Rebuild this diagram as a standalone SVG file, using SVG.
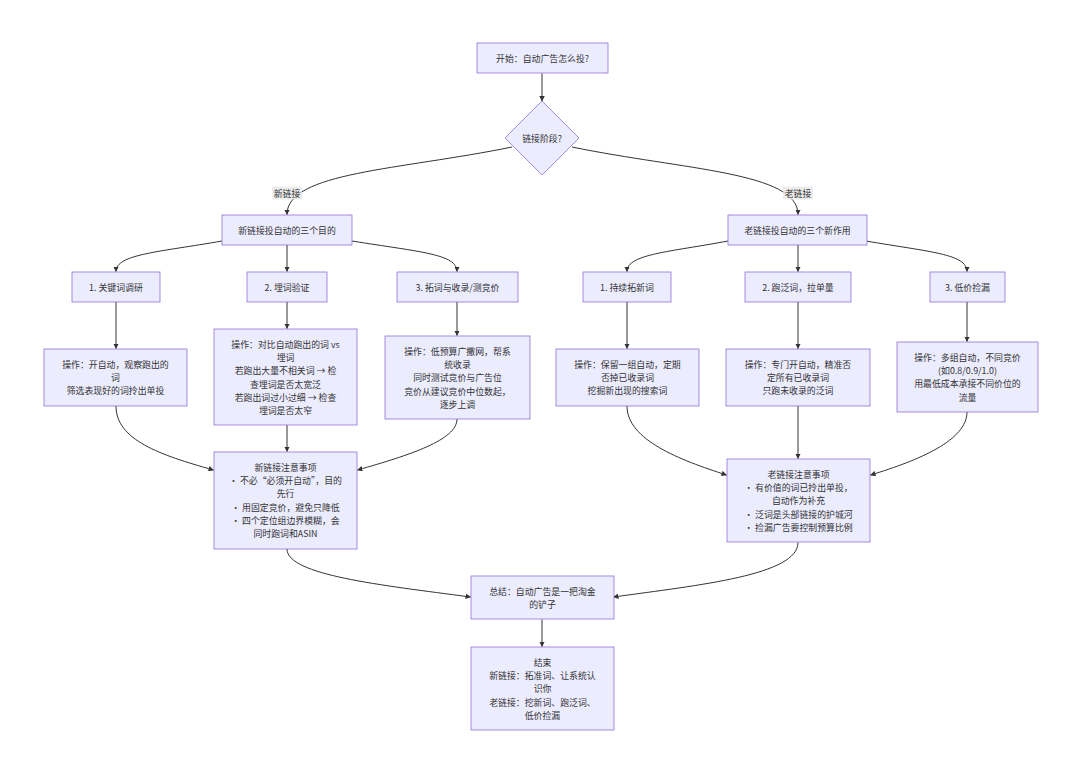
<svg xmlns="http://www.w3.org/2000/svg" width="1080" height="769" viewBox="0 0 1080 769">
<style>
.box{fill:#ECECFF;stroke:#9370DB;stroke-width:0.8}
.t{font-family:"Noto Sans CJK SC","Noto Sans",sans-serif;font-size:8.9px;fill:#333;text-anchor:middle;dominant-baseline:central}
.e{fill:none;stroke:#333;stroke-width:1}
.lbl{fill:#E8E8E8;fill-opacity:0.8}
</style>
<defs>
<marker id="arr" viewBox="0 0 10 10" refX="9" refY="5" markerWidth="5.5" markerHeight="5.5" markerUnits="userSpaceOnUse" orient="auto">
<path d="M0,0 L10,5 L0,10 z" fill="#333"/>
</marker>
</defs>
<rect width="1080" height="769" fill="#fff"/>

<g id="connectors">
<path class="e" marker-end="url(#arr)" d="M542,73.5 L542,101"/>
<path class="e" marker-end="url(#arr)" d="M512,147 C400,170 287,172 287,214.5"/>
<path class="e" marker-end="url(#arr)" d="M572,147 C684,170 798,172 798,214.5"/>
<path class="e" marker-end="url(#arr)" d="M222,241 C160,252 116,254 116,271.5"/>
<path class="e" marker-end="url(#arr)" d="M287,245 L287,271.5"/>
<path class="e" marker-end="url(#arr)" d="M352,241 C420,252 457,254 457,271.5"/>
<path class="e" marker-end="url(#arr)" d="M728,241 C670,252 627,254 627,271.5"/>
<path class="e" marker-end="url(#arr)" d="M798,245 L798,271.5"/>
<path class="e" marker-end="url(#arr)" d="M866,241 C930,252 967,254 967,271.5"/>
<path class="e" marker-end="url(#arr)" d="M116,302 L116,348.5"/>
<path class="e" marker-end="url(#arr)" d="M287,302 L287,328.5"/>
<path class="e" marker-end="url(#arr)" d="M457,302 L457,335.5"/>
<path class="e" marker-end="url(#arr)" d="M627,302 L627,348.5"/>
<path class="e" marker-end="url(#arr)" d="M798,302 L798,348.5"/>
<path class="e" marker-end="url(#arr)" d="M967,302 L967,341.5"/>
<path class="e" marker-end="url(#arr)" d="M116,406 C116,440 160,455 213.5,470"/>
<path class="e" marker-end="url(#arr)" d="M287,425 L287,451.5"/>
<path class="e" marker-end="url(#arr)" d="M457,419 C457,440 410,455 357.5,470"/>
<path class="e" marker-end="url(#arr)" d="M627,406 C627,440 680,460 726.5,475"/>
<path class="e" marker-end="url(#arr)" d="M798,406 L798,458.5"/>
<path class="e" marker-end="url(#arr)" d="M967,412 C967,440 920,460 870.5,475"/>
<path class="e" marker-end="url(#arr)" d="M287,549 C287,575 380,585 470.5,597"/>
<path class="e" marker-end="url(#arr)" d="M798,542.5 C798,575 700,585 613.5,597"/>
<path class="e" marker-end="url(#arr)" d="M542,619.5 L542,646.5"/>
<rect class="lbl" x="272" y="186.5" width="30" height="13"/>
<text class="t" x="287" y="193">新链接</text>
<rect class="lbl" x="783" y="186.5" width="30" height="13"/>
<text class="t" x="798" y="193">老链接</text>
</g>

<g id="start">
<rect class="box" x="477" y="43" width="131" height="30"/>
<text class="t" x="542.5" y="58">开始：自动广告怎么投?</text>
</g>
<g id="stage">
<polygon class="box" points="542,101 579,138 542,175 505,138"/>
<text class="t" x="542" y="138">链接阶段?</text>
</g>
<g id="newlink">
<rect class="box" x="222" y="215" width="130" height="30"/>
<text class="t" x="287" y="230">新链接投自动的三个目的</text>
</g>
<g id="oldlink">
<rect class="box" x="728" y="215" width="139" height="30"/>
<text class="t" x="797.5" y="230">老链接投自动的三个新作用</text>
</g>

<g id="n1">
<rect class="box" x="72" y="272" width="88" height="30"/>
<text class="t" x="116" y="287">1. 关键词调研</text>
</g>
<g id="n2">
<rect class="box" x="247" y="272" width="80" height="30"/>
<text class="t" x="287" y="287">2. 埋词验证</text>
</g>
<g id="n3">
<rect class="box" x="397" y="272" width="121" height="30"/>
<text class="t" x="457.5" y="287">3. 拓词与收录/测竞价</text>
</g>
<g id="o1">
<rect class="box" x="583" y="272" width="88" height="30"/>
<text class="t" x="627" y="287">1. 持续拓新词</text>
</g>
<g id="o2">
<rect class="box" x="745" y="272" width="106" height="30"/>
<text class="t" x="798" y="287">2. 跑泛词，拉单量</text>
</g>
<g id="o3">
<rect class="box" x="930" y="272" width="75" height="30"/>
<text class="t" x="967.5" y="287">3. 低价捡漏</text>
</g>

<g id="n1op">
<rect class="box" x="44" y="349" width="143" height="57"/>
<text class="t" x="115.5" y="364">操作：开自动，观察跑出的</text>
<text class="t" x="115.5" y="377.3">词</text>
<text class="t" x="115.5" y="390.7">筛选表现好的词拎出单投</text>
</g>
<g id="n2op">
<rect class="box" x="214" y="329" width="143" height="96"/>
<text class="t" x="285.5" y="344">操作：对比自动跑出的词 vs</text>
<text class="t" x="285.5" y="357.3">埋词</text>
<text class="t" x="285.5" y="370.7">若跑出大量不相关词 → 检</text>
<text class="t" x="285.5" y="384">查埋词是否太宽泛</text>
<text class="t" x="285.5" y="397.3">若跑出词过小过细 → 检查</text>
<text class="t" x="285.5" y="410.7">埋词是否太窄</text>
</g>
<g id="n3op">
<rect class="box" x="385" y="336" width="145" height="83"/>
<text class="t" x="457.5" y="351">操作：低预算广撒网，帮系</text>
<text class="t" x="457.5" y="364.3">统收录</text>
<text class="t" x="457.5" y="377.7">同时测试竞价与广告位</text>
<text class="t" x="457.5" y="391">竞价从建议竞价中位数起，</text>
<text class="t" x="457.5" y="404.3">逐步上调</text>
</g>
<g id="o1op">
<rect class="box" x="556" y="349" width="143" height="57"/>
<text class="t" x="627.5" y="364">操作：保留一组自动，定期</text>
<text class="t" x="627.5" y="377.3">否掉已收录词</text>
<text class="t" x="627.5" y="390.7">挖掘新出现的搜索词</text>
</g>
<g id="o2op">
<rect class="box" x="726" y="349" width="144" height="57"/>
<text class="t" x="798" y="364">操作：专门开自动，精准否</text>
<text class="t" x="798" y="377.3">定所有已收录词</text>
<text class="t" x="798" y="390.7">只跑未收录的泛词</text>
</g>
<g id="o3op">
<rect class="box" x="897" y="342" width="141" height="70"/>
<text class="t" x="967.5" y="357">操作：多组自动，不同竞价</text>
<text class="t" x="967.5" y="370.3">(如0.8/0.9/1.0)</text>
<text class="t" x="967.5" y="383.7">用最低成本承接不同价位的</text>
<text class="t" x="967.5" y="397">流量</text>
</g>

<g id="newnotes">
<rect class="box" x="214" y="452" width="143" height="97"/>
<text class="t" x="285.5" y="467">新链接注意事项</text>
<text class="t" x="285.5" y="480.3">· 不必“必须开自动”，目的</text>
<text class="t" x="285.5" y="493.7">先行</text>
<text class="t" x="285.5" y="507">· 用固定竞价，避免只降低</text>
<text class="t" x="285.5" y="520.3">· 四个定位组边界模糊，会</text>
<text class="t" x="285.5" y="533.7">同时跑词和ASIN</text>
</g>
<g id="oldnotes">
<rect class="box" x="727" y="459" width="143" height="83"/>
<text class="t" x="798.5" y="474">老链接注意事项</text>
<text class="t" x="798.5" y="487.3">· 有价值的词已拎出单投，</text>
<text class="t" x="798.5" y="500.7">自动作为补充</text>
<text class="t" x="798.5" y="514">· 泛词是头部链接的护城河</text>
<text class="t" x="798.5" y="527.3">· 捡漏广告要控制预算比例</text>
</g>
<g id="summary">
<rect class="box" x="471" y="576" width="143" height="43"/>
<text class="t" x="542.5" y="591">总结：自动广告是一把淘金</text>
<text class="t" x="542.5" y="604.3">的铲子</text>
</g>
<g id="end">
<rect class="box" x="471" y="647" width="143" height="83"/>
<text class="t" x="542.5" y="662">结束</text>
<text class="t" x="542.5" y="675.3">新链接：拓准词、让系统认</text>
<text class="t" x="542.5" y="688.7">识你</text>
<text class="t" x="542.5" y="702">老链接：挖新词、跑泛词、</text>
<text class="t" x="542.5" y="715.3">低价捡漏</text>
</g>
</svg>
